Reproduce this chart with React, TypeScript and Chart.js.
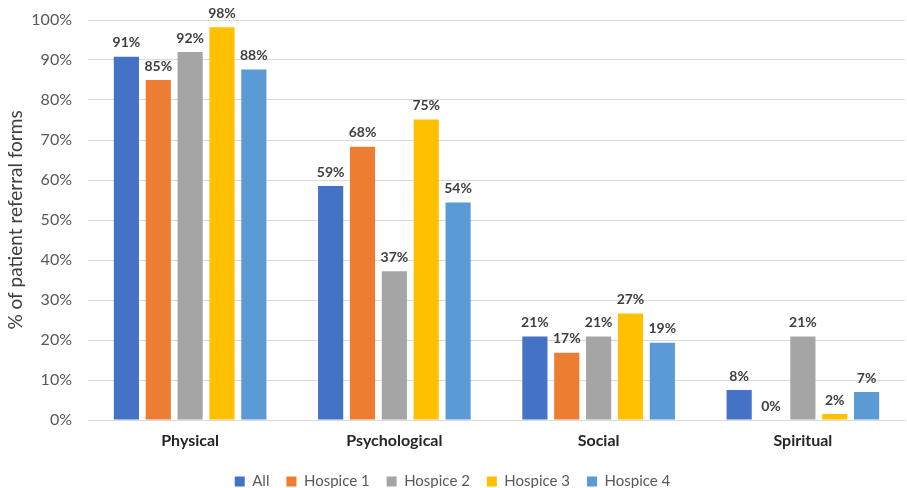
import React, { useEffect, useRef } from "react";
import { Chart, registerables } from "chart.js";

Chart.register(...registerables);

const categories = ["Physical", "Psychological", "Social", "Spiritual"];
const seriesNames = ["All", "Hospice 1", "Hospice 2", "Hospice 3", "Hospice 4"];
const allValues = [90.8, 58.5, 20.9, 7.5];
const hospice1Values = [85.0, 68.3, 16.8, 0];
const hospice2Values = [92.0, 37.2, 20.9, 20.9];
const hospice3Values = [98.2, 75.1, 26.6, 1.5];
const hospice4Values = [87.6, 54.4, 19.3, 7.0];
const seriesColors = ["#4472C4", "#ED7D31", "#A5A5A5", "#FFC000", "#5B9BD5"];
const yTicks = [0, 10, 20, 30, 40, 50, 60, 70, 80, 90, 100];

const FONT = "Lato, 'Open Sans', sans-serif";

const dataLabelPlugin = {
  id: "dataLabels",
  afterDatasetsDraw(chart: any) {
    const ctx = chart.ctx;
    ctx.save();
    ctx.font = `bold 14px ${FONT}`;
    ctx.fillStyle = "#404040";
    ctx.textAlign = "center";
    ctx.textBaseline = "bottom";
    chart.data.datasets.forEach((ds: any, i: number) => {
      const meta = chart.getDatasetMeta(i);
      meta.data.forEach((bar: any, j: number) => {
        const v = ds.data[j];
        ctx.fillText(Math.round(v) + "%", bar.x, bar.y - 7);
      });
    });
    ctx.restore();
  },
};

export default function App() {
  const ref = useRef<HTMLCanvasElement>(null);
  useEffect(() => {
    document.body.style.margin = "0";
    const seriesValues = [allValues, hospice1Values, hospice2Values, hospice3Values, hospice4Values];
    const chart = new Chart(ref.current!, {
      type: "bar",
      data: {
        labels: categories,
        datasets: seriesNames.map((name, i) => ({
          label: name,
          data: seriesValues[i],
          backgroundColor: seriesColors[i],
          categoryPercentage: 0.78,
          barPercentage: 0.79,
        })),
      },
      options: {
        animation: false,
        responsive: false,
        maintainAspectRatio: false,
        layout: { padding: { top: 20, right: 2, left: 0, bottom: -11 } },
        plugins: {
          tooltip: { enabled: false },
          legend: {
            position: "bottom",
            labels: {
              boxWidth: 10,
              boxHeight: 10,
              padding: 17,
              color: "#595959",
              font: { family: FONT, size: 15 },
            },
          },
        },
        scales: {
          x: {
            grid: { display: false },
            border: { color: "#D9D9D9" },
            ticks: {
              color: "#262626",
              font: { family: FONT, size: 16, weight: "bold" },
              padding: 3,
            },
            afterFit(scale: any) {
              scale.height = 37;
            },
          },
          y: {
            min: 0,
            max: 100,
            afterBuildTicks(scale: any) {
              scale.ticks = yTicks.map((v) => ({ value: v }));
            },
            grid: { color: "#D9D9D9", drawTicks: false },
            border: { display: false },
            ticks: {
              color: "#595959",
              font: { family: FONT, size: 16 },
              padding: 16,
              callback: (v: any) => v + "%",
            },
            title: {
              display: true,
              text: "% of patient referral forms",
              color: "#404040",
              font: { family: FONT, size: 19 },
            },
            afterFit(scale: any) {
              scale.width = 88;
              scale.paddingTop = 0;
              scale.paddingBottom = 0;
            },
          },
        },
      },
      plugins: [dataLabelPlugin],
    } as any);
    return () => chart.destroy();
  }, []);
  return (
    <div style={{ width: 907, height: 488 }}>
      <canvas ref={ref} width={907} height={488} style={{ display: "block" }} />
    </div>
  );
}
